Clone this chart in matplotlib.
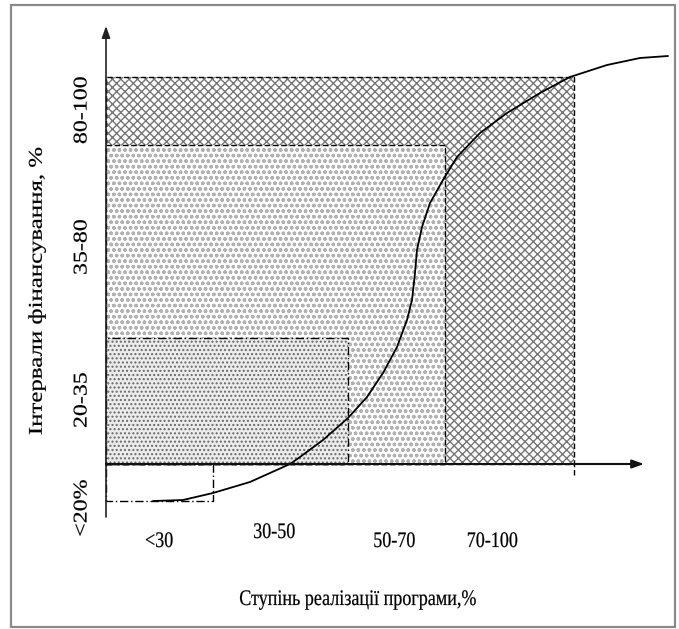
import numpy as np
import matplotlib
matplotlib.use("Agg")
import matplotlib.pyplot as plt
from matplotlib.patches import Rectangle
from matplotlib.patheffects import AbstractPathEffect
from matplotlib.transforms import Affine2D

# schematic units (roughly pixels from the origin of the axes)
x_labels = ["<30", "30-50", "50-70", "70-100"]
y_labels = ["<20%", "20-35", "35-80", "80-100"]
# right edge and top edge of each zone
zone_w = [107, 242, 339, 468]
zone_h = [-37, 126, 319, 387]

# S-curve
curve_x = [47, 77, 107, 144, 184, 194, 217, 242, 261, 277, 291, 301, 306,
           309, 311, 316, 324, 337, 351, 374, 401, 434, 464, 501, 534, 562]
curve_y = [-37, -36, -29, -18, 0, 7, 24, 46, 67, 91, 117, 144, 164,
           191, 214, 237, 261, 284, 307, 331, 351, 371, 387, 399, 406, 408]

xlab_pos = [(53, -83), (168, -74), (288, -83), (386, -83)]
ylab_pos = [(-24, -44), (-24, 64), (-24, 217), (-24, 354)]


class Stretch(AbstractPathEffect):
    # stretch glyphs in the text's own frame (the original picture was scaled)
    def __init__(self, sx=1.0, sy=1.0, lw=0.15):
        super().__init__()
        self.sx = sx
        self.sy = sy
        self.lw = lw

    def draw_path(self, renderer, gc, tpath, affine, rgbFace=None):
        ext = tpath.get_extents()
        cx = (ext.x0 + ext.x1) / 2
        t = Affine2D().translate(-cx, 0).scale(self.sx, self.sy).translate(cx, 0)
        gc0 = renderer.new_gc()
        gc0.copy_properties(gc)
        gc0.set_linewidth(self.lw)
        gc0.set_foreground(rgbFace)
        renderer.draw_path(gc0, tpath, t + affine, rgbFace)
        gc0.restore()


fig = plt.figure(figsize=(6.79, 6.29), dpi=100)
ax = fig.add_axes([0, 0, 1, 1])
ax.set_xlim(-106, 573)
ax.set_ylim(-165, 464)
ax.axis("off")

# outer frame
fig.patches.append(Rectangle((11 / 679, 2 / 629), 664 / 679, 622 / 629,
                             transform=fig.transFigure, fill=False,
                             edgecolor="#8a8a8a", linewidth=1.6))

plt.rcParams["hatch.linewidth"] = 1.0

dash = (0, (4, 2))
dashdot = (0, (6, 2, 1, 2))

# 80-100 zone
ax.add_patch(Rectangle((0, 0), zone_w[3], zone_h[3], facecolor="white",
                       edgecolor="#767676", hatch="xxxx", linewidth=0))
ax.add_patch(Rectangle((0, 0), zone_w[3], zone_h[3], fill=False,
                       edgecolor="black", linestyle=dash, linewidth=1))
# 35-80 zone
ax.add_patch(Rectangle((0, 0), zone_w[2], zone_h[2], facecolor="white",
                       edgecolor="#b2b2b2", hatch="ooo", linewidth=0))
ax.add_patch(Rectangle((0, 0), zone_w[2], zone_h[2], fill=False,
                       edgecolor="black", linestyle=dash, linewidth=1))
# 20-35 zone
ax.add_patch(Rectangle((0, 0), zone_w[1], zone_h[1], facecolor="#ececec",
                       edgecolor="#6a6a6a", hatch="....", linewidth=0))
ax.add_patch(Rectangle((0, 0), zone_w[1], zone_h[1], fill=False,
                       edgecolor="black", linestyle=dashdot, linewidth=1))
# <20% zone
ax.add_patch(Rectangle((0, 0), zone_w[0], zone_h[0], fill=False,
                       edgecolor="black", linestyle=dashdot, linewidth=1))
ax.vlines(zone_w[3], -11, 0, colors="black", linestyles=dash, linewidth=1)

# curve
ax.plot(curve_x, curve_y, color="black", linewidth=1.3, solid_capstyle="round",
        solid_joinstyle="round")

# axes with arrows
ax.annotate("", xy=(0, 438), xytext=(0, -53),
            arrowprops=dict(arrowstyle="-|>,head_length=0.7,head_width=0.25",
                            color="#222222", linewidth=1.2, shrinkA=0, shrinkB=0))
ax.annotate("", xy=(538, 0), xytext=(0, 0),
            arrowprops=dict(arrowstyle="-|>,head_length=0.7,head_width=0.25",
                            color="#111111", linewidth=1.5, shrinkA=0, shrinkB=0))

serif = "Liberation Serif"
for lab, (x, y) in zip(x_labels, xlab_pos):
    ax.text(x, y, lab, family=serif, fontsize=13, ha="center", va="baseline",
            path_effects=[Stretch(1.0, 1.23)])
for lab, (x, y) in zip(y_labels, ylab_pos):
    ax.text(x, y, lab, family=serif, fontsize=14, ha="center", va="center",
            rotation=90, path_effects=[Stretch(1.23, 1.0)])

ax.text(251, -141, "Ступінь реалізації програми,%", family=serif, fontsize=13,
        ha="center", va="baseline", path_effects=[Stretch(1.0, 1.23)])
ax.text(-69, 173, "Інтервали фінансування, %", family=serif, fontsize=14,
        ha="center", va="center", rotation=90, path_effects=[Stretch(1.28, 1.0)])

fig.savefig("out.png", dpi=100)
